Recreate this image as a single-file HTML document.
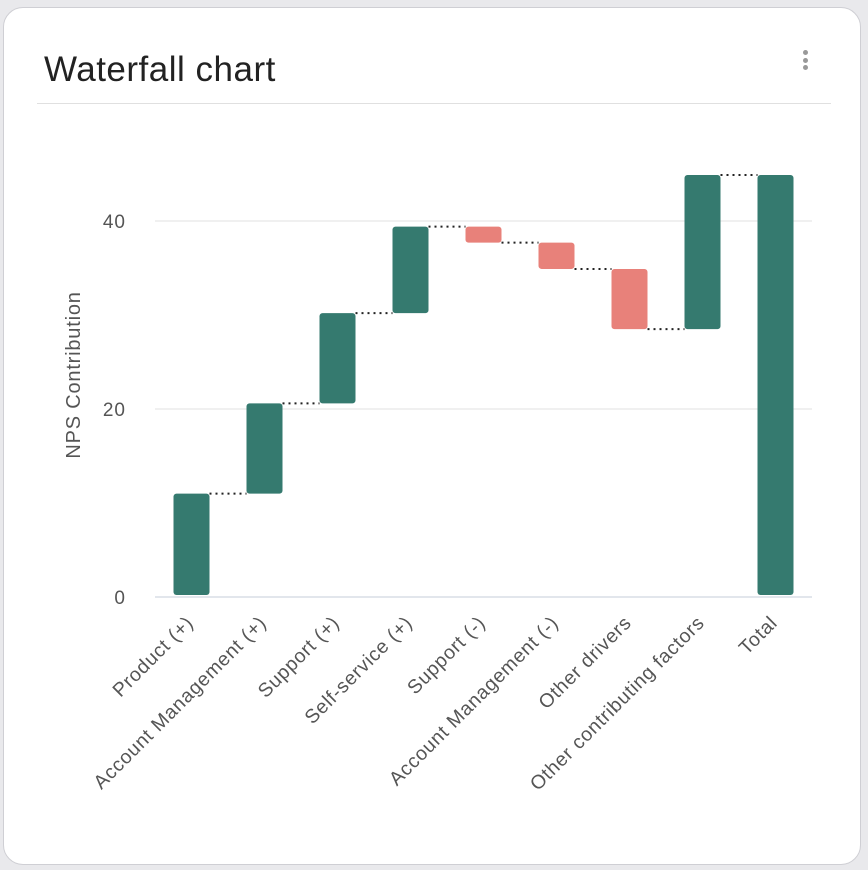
<!DOCTYPE html>
<html><head><meta charset="utf-8"><style>
html,body{margin:0;padding:0;background:#e9e9ec;width:868px;height:870px;overflow:hidden;font-family:"Liberation Sans",Arial,sans-serif}
.card{position:absolute;left:3px;top:7px;width:858px;height:858px;background:#fff;border:1px solid #cfcfd4;border-radius:20px;box-sizing:border-box}
.title{position:absolute;left:40px;top:42px;font-size:35px;color:#222;letter-spacing:0.5px}
.div{position:absolute;left:33px;top:95px;width:794px;height:1px;background:#e0e0e0}
.kebab{position:absolute;left:799px;top:42px;width:6px}
.kebab i{display:block;width:5px;height:5px;border-radius:50%;background:#999;margin-bottom:2.5px}
svg{position:absolute;left:0;top:0}
</style></head><body>
<div class="card">
<div class="title">Waterfall chart</div>
<div class="kebab"><i></i><i></i><i></i></div>
<div class="div"></div>
</div>
<svg id="chart" width="868" height="870"></svg>
<script>
const categories=["Product (+)","Account Management (+)","Support (+)","Self-service (+)","Support (-)","Account Management (-)","Other drivers","Other contributing factors","Total"];
const deltas=[11,9.6,9.6,9.2,-1.7,-2.8,-6.4,16.4,null];
const yTicks=[0,20,40];
const NS="http://www.w3.org/2000/svg";
const svg=document.getElementById('chart');
const x0=155,bw=73,y0=597,ppu=9.4;
const Y=v=>y0-v*ppu;
const X=i=>x0+bw*i+bw/2;
function mk(t,a,p){const e=document.createElementNS(NS,t);for(const k in a)e.setAttribute(k,a[k]);(p||svg).appendChild(e);return e;}
yTicks.forEach(t=>{
 const l=mk('line',{x1:x0,x2:812,y1:Y(t),y2:Y(t),stroke:t===0?'#c5ccd8':'#e2e2e2','stroke-width':1});
 
 
 const tx=mk('text',{x:126,y:Y(t)+7,'text-anchor':'end','font-size':19,fill:'#555','letter-spacing':1});
 tx.textContent=t;
 
 
});
const yl=mk('text',{x:0,y:0,transform:'translate(80,375) rotate(-90)','text-anchor':'middle','font-size':20,fill:'#555','letter-spacing':0.8});
yl.textContent='NPS Contribution';


let cum=0;
categories.forEach((c,i)=>{
 let a,b,col;
 if(deltas[i]===null){a=0;b=cum;col='#357a6f';}
 else{a=cum;b=cum+deltas[i];col=deltas[i]>=0?'#357a6f':'#e8817a';}
 const top=Y(Math.max(a,b)),bot=Math.min(Y(Math.min(a,b)),y0-2);
 const r=mk('rect',{x:X(i)-18,y:top,width:36,height:Math.max(bot-top,1),rx:3,fill:col});
 
 
 if(i<categories.length-1){
  const end=deltas[i]===null?cum:b;
  const ln=mk('line',{x1:X(i)+18,x2:X(i+1)-18,y1:Y(end),y2:Y(end),stroke:'#222','stroke-width':2,'stroke-dasharray':'2 4'});
  
  
 }
 if(deltas[i]!==null)cum=b;
 const t=mk('text',{x:0,y:0,transform:`translate(${X(i)+3},${624}) rotate(-45)`,'text-anchor':'end','font-size':19.5,fill:'#555','letter-spacing':0.7});
 t.textContent=c;
 
 
});
</script>
</body></html>
